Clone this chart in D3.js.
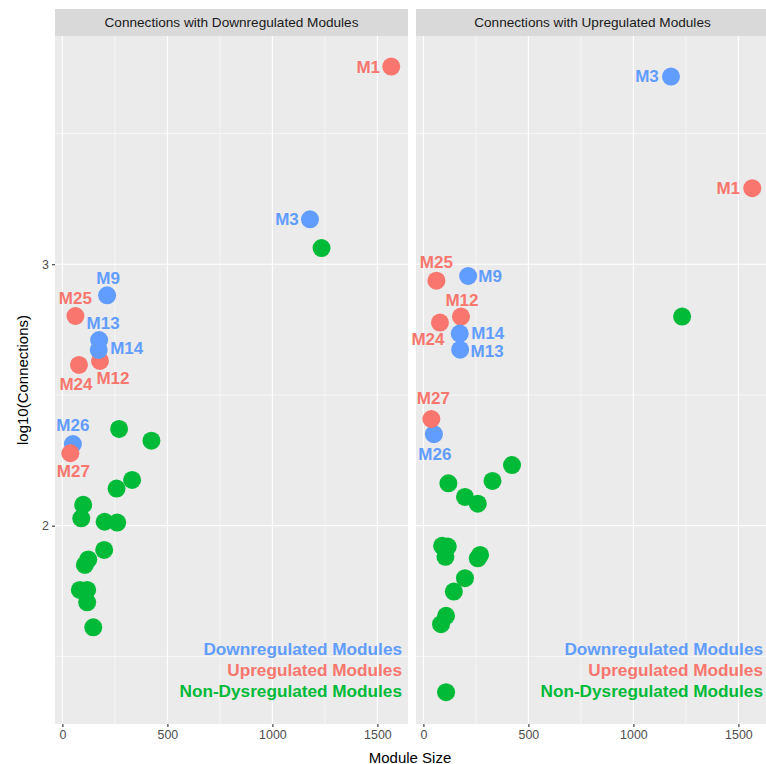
<!DOCTYPE html>
<html>
<head>
<meta charset="utf-8">
<script src="https://cdn.jsdelivr.net/npm/d3@7"></script>
<style>
  body { margin: 0; background: #fff; }
  svg { display: block; font-family: "Liberation Sans", Arial, sans-serif; }
</style>
</head>
<body>
<svg width="766" height="764"></svg>
<script>
// labelled (dysregulated) modules, shared between both facets
const modules = ["M1", "M3", "M9", "M12", "M13", "M14", "M24", "M25", "M26", "M27"];
const moduleSize = [1566, 1179, 213, 179, 175, 173, 79, 62, 50, 38];
const moduleStatus = ["Up", "Down", "Down", "Up", "Down", "Down", "Up", "Up", "Down", "Up"];
const downConn = [3.756, 3.172, 2.881, 2.630, 2.710, 2.672, 2.615, 2.802, 2.312, 2.277];
const upConn = [3.291, 3.718, 2.955, 2.800, 2.673, 2.735, 2.777, 2.937, 2.350, 2.408];

// non-dysregulated modules, per facet
const otherSizeDown = [1234, 270, 424, 332, 258, 99, 90, 201, 261, 199, 123, 107, 83, 118, 118, 147];
const otherConnDown = [3.062, 2.370, 2.325, 2.175, 2.142, 2.080, 2.028, 2.015, 2.012, 1.907, 1.871, 1.850, 1.754, 1.754, 1.707, 1.611];
const otherSizeUp = [1232, 422, 119, 329, 198, 259, 89, 116, 105, 270, 259, 198, 145, 108, 84, 108];
const otherConnUp = [2.800, 2.232, 2.162, 2.171, 2.110, 2.084, 1.923, 1.920, 1.881, 1.888, 1.875, 1.799, 1.748, 1.655, 1.623, 1.363];

const facetTitles = ["Connections with Downregulated Modules", "Connections with Upregulated Modules"];
const xTicks = [0, 500, 1000, 1500];
const yTicks = [2, 3];
const legendLabels = ["Downregulated Modules", "Upregulated Modules", "Non-Dysregulated Modules"];

// label placement (pixel offsets from the point), like ggrepel gave
const labelNudge = [
  { M1: [-23, 1], M3: [-23, 0], M9: [1, -17], M25: [0, -18], M13: [4, -17], M14: [28, -1],
    M12: [13, 18], M24: [-3, 20], M26: [0, -19], M27: [3, 18] },
  { M1: [-24, 0], M3: [-24, 0], M25: [0, -18], M9: [22, 0], M12: [1, -16], M24: [-12, 17],
    M14: [28, 0], M13: [27, 2], M27: [2, -21], M26: [1, 20] }
];

const colors = { Up: "#F8766D", Down: "#619CFF", Other: "#00BA38" };

const svg = d3.select("svg");
const panelTop = 36, panelBottom = 724, stripTop = 9;
const panelW = 353;
const panelLefts = [55, 416];

const y = d3.scaleLinear().domain([1.2414, 3.873]).range([panelBottom, panelTop]);

function drawPanel(i, conn, otherSize, otherConn) {
  const left = panelLefts[i];
  const x = d3.scaleLinear().domain([-35.2, 1645.7]).range([left, left + panelW]);
  const g = svg.append("g");

  // strip
  g.append("rect").attr("x", left).attr("y", stripTop).attr("width", panelW).attr("height", panelTop - stripTop)
    .attr("fill", "#D9D9D9");
  g.append("text").attr("x", left + panelW / 2).attr("y", (stripTop + panelTop) / 2)
    .attr("text-anchor", "middle").attr("dominant-baseline", "central")
    .attr("font-size", 13.6).attr("fill", "#1A1A1A").text(facetTitles[i]);

  // panel background + grid
  g.append("rect").attr("x", left).attr("y", panelTop).attr("width", panelW).attr("height", panelBottom - panelTop)
    .attr("fill", "#EBEBEB");
  const minorX = [250, 750, 1250], minorY = [1.5, 2.5, 3.5];
  minorX.forEach(v => g.append("line").attr("x1", x(v)).attr("x2", x(v)).attr("y1", panelTop).attr("y2", panelBottom)
    .attr("stroke", "#fff").attr("stroke-width", 0.55));
  minorY.forEach(v => g.append("line").attr("y1", y(v)).attr("y2", y(v)).attr("x1", left).attr("x2", left + panelW)
    .attr("stroke", "#fff").attr("stroke-width", 0.55));
  xTicks.forEach(v => g.append("line").attr("x1", x(v)).attr("x2", x(v)).attr("y1", panelTop).attr("y2", panelBottom)
    .attr("stroke", "#fff").attr("stroke-width", 1.1));
  yTicks.forEach(v => g.append("line").attr("y1", y(v)).attr("y2", y(v)).attr("x1", left).attr("x2", left + panelW)
    .attr("stroke", "#fff").attr("stroke-width", 1.1));

  // x axis
  const axX = g.append("g").attr("transform", `translate(0,${panelBottom})`)
    .call(d3.axisBottom(x).tickValues(xTicks).tickSize(3).tickPadding(3).tickFormat(d3.format("d")));
  axX.select(".domain").remove();
  axX.selectAll("line").attr("stroke", "#333").attr("stroke-width", 1.1);
  axX.selectAll("text").attr("font-size", 12.4).attr("fill", "#4D4D4D").attr("font-family", null);

  if (i === 0) {
    const axY = g.append("g").attr("transform", `translate(${left},0)`)
      .call(d3.axisLeft(y).tickValues(yTicks).tickSize(3).tickPadding(3).tickFormat(d3.format("d")));
    axY.select(".domain").remove();
    axY.selectAll("line").attr("stroke", "#333").attr("stroke-width", 1.1);
    axY.selectAll("text").attr("font-size", 12.4).attr("fill", "#4D4D4D").attr("font-family", null);
  }

  // legend text annotations
  legendLabels.forEach((t, k) => {
    g.append("text").attr("x", left + panelW - 6).attr("y", 648.5 + k * 21)
      .attr("text-anchor", "end").attr("dominant-baseline", "central")
      .attr("font-size", 17.2).attr("font-weight", "bold")
      .attr("fill", [colors.Down, colors.Up, colors.Other][k]).text(t);
  });

  // non-dysregulated points
  g.selectAll(".other").data(otherSize.map((s, k) => ({ s, c: otherConn[k] })))
    .enter().append("circle")
    .attr("cx", d => x(d.s)).attr("cy", d => y(d.c)).attr("r", 9)
    .attr("fill", colors.Other);

  // dysregulated points
  const pts = modules.map((m, k) => ({ m, s: moduleSize[k], c: conn[k], st: moduleStatus[k] }));
  g.selectAll(".mod").data(pts).enter().append("circle")
    .attr("cx", d => x(d.s)).attr("cy", d => y(d.c)).attr("r", 9)
    .attr("fill", d => colors[d.st]);

  g.selectAll(".lab").data(pts).enter().append("text")
    .attr("x", d => x(d.s) + labelNudge[i][d.m][0])
    .attr("y", d => y(d.c) + labelNudge[i][d.m][1])
    .attr("text-anchor", "middle").attr("dominant-baseline", "central")
    .attr("font-size", 17).attr("font-weight", "bold")
    .attr("fill", d => colors[d.st]).text(d => d.m);
}

drawPanel(0, downConn, otherSizeDown, otherConnDown);
drawPanel(1, upConn, otherSizeUp, otherConnUp);

// axis titles
svg.append("text").attr("x", 410).attr("y", 757).attr("text-anchor", "middle").attr("dominant-baseline", "central")
  .attr("font-size", 15).attr("fill", "#000").text("Module Size");
svg.append("text").attr("transform", `translate(22,${(panelTop + panelBottom) / 2}) rotate(-90)`)
  .attr("text-anchor", "middle").attr("dominant-baseline", "central")
  .attr("font-size", 15).attr("fill", "#000").text("log10(Connections)");
</script>
</body>
</html>
